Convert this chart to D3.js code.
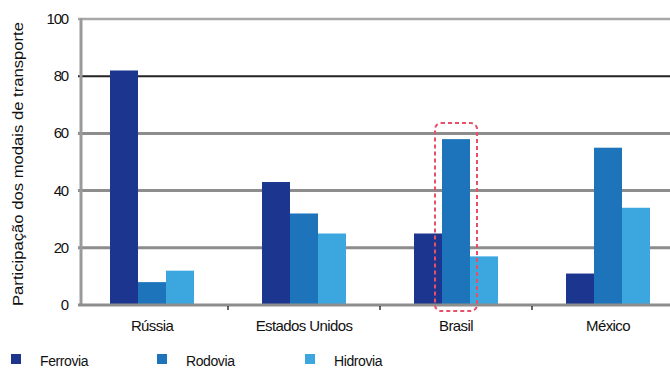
<!DOCTYPE html>
<html lang="pt">
<head>
<meta charset="utf-8">
<title>Participação dos modais de transporte</title>
<style>
    body { margin: 0; background: #fff; }
    svg { display: block; font-family: "Liberation Sans", Arial, sans-serif; }
    .tick-lbl { font-size: 15px; fill: #111; }
    .cat-lbl { font-size: 15px; fill: #111; letter-spacing: -0.6px; }
    .leg-lbl { font-size: 14px; fill: #111; letter-spacing: -0.4px; }
</style>
</head>
<body>
<svg id="chart" width="670" height="368"></svg>
<script src="https://d3js.org/d3.v7.min.js"></script>
<script>
    // dados
    var paises = ['Rússia', 'Estados Unidos', 'Brasil', 'México'];
    var series = ['Ferrovia', 'Rodovia', 'Hidrovia'];
    var ferrovia = [82, 43, 25, 11];
    var rodovia = [8, 32, 58, 55];
    var hidrovia = [12, 25, 17, 34];
    var yTicks = [0, 20, 40, 60, 80, 100];
    var cores = ['#1c3690', '#1d74bb', '#3ca7df'];

    var valores = [ferrovia, rodovia, hidrovia];

    var svg = d3.select('#chart'),
        axisX = 81,
        plotTop = 19,
        plotBottom = 305;

    // escalas
    var y = d3.scaleLinear().domain([0, 100]).range([plotBottom, plotTop]);
    var x0 = d3.scaleBand().domain(paises).range([76, 684]);
    var groupW = 84;
    var x1 = d3.scaleBand().domain(series).range([0, groupW]);

    function barX(pais, serie) {
        return x0(pais) + (x0.bandwidth() - groupW) / 2 + x1(serie);
    }

    // grades
    var grid = svg.append('g');
    yTicks.forEach(function(t) {
        var cor = '#8d8d8d', w = 3;
        if (t === 80) { cor = '#222'; w = 2; }
        if (t === 100) { cor = '#a8a8a8'; w = 2.5; }
        if (t === 0) { return; }
        grid.append('line')
            .attr('x1', axisX - 3).attr('x2', 670)
            .attr('y1', y(t)).attr('y2', y(t))
            .attr('stroke', cor).attr('stroke-width', w);
    });

    // barras
    var bars = svg.append('g');
    paises.forEach(function(p, i) {
        series.forEach(function(s, j) {
            bars.append('rect')
                .attr('x', barX(p, s))
                .attr('y', y(valores[j][i]))
                .attr('width', x1.bandwidth())
                .attr('height', y(0) - y(valores[j][i]))
                .attr('fill', cores[j]);
        });
    });

    // eixo y
    svg.append('line')
        .attr('x1', axisX).attr('x2', axisX)
        .attr('y1', plotTop - 1).attr('y2', plotBottom + 1)
        .attr('stroke', '#9a9a9a').attr('stroke-width', 3);

    // linha base
    svg.append('line')
        .attr('x1', axisX - 3).attr('x2', 670)
        .attr('y1', y(0)).attr('y2', y(0))
        .attr('stroke', '#8d8d8d').attr('stroke-width', 3);

    var yAxis = svg.append('g');
    yTicks.forEach(function(t) {
        yAxis.append('text')
            .attr('class', 'tick-lbl')
            .attr('x', 68).attr('y', y(t) + 5)
            .attr('text-anchor', 'end')
            .style('letter-spacing', '-1.2px')
            .text(t);
    });

    // marcas entre categorias
    paises.slice(1).forEach(function(p) {
        svg.append('line')
            .attr('x1', x0(p)).attr('x2', x0(p))
            .attr('y1', plotBottom + 1).attr('y2', plotBottom + 5)
            .attr('stroke', '#333').attr('stroke-width', 1.5);
    });

    // rótulos das categorias
    paises.forEach(function(p) {
        svg.append('text')
            .attr('class', 'cat-lbl')
            .attr('x', x0(p) + x0.bandwidth() / 2)
            .attr('y', 331)
            .attr('text-anchor', 'middle')
            .text(p);
    });

    // título do eixo y
    svg.append('text')
        .attr('transform', 'translate(23,' + ((plotTop + plotBottom) / 2 + 2) + ') rotate(-90)')
        .attr('text-anchor', 'middle')
        .attr('font-size', 14)
        .attr('fill', '#111')
        .attr('textLength', 284)
        .attr('lengthAdjust', 'spacingAndGlyphs')
        .text('Participação dos modais de transporte');

    // destaque Brasil
    var bx = barX('Brasil', 'Rodovia');
    svg.append('rect')
        .attr('x', bx - 7)
        .attr('y', y(58) - 16)
        .attr('width', x1.bandwidth() + 14)
        .attr('height', y(0) - y(58) + 22)
        .attr('rx', 6)
        .attr('fill', 'none')
        .attr('stroke', '#e8506a')
        .attr('stroke-width', 2)
        .attr('stroke-dasharray', '4,3');

    // legenda
    var legX = [11, 157, 305];
    series.forEach(function(s, j) {
        svg.append('rect')
            .attr('x', legX[j]).attr('y', 354)
            .attr('width', 10).attr('height', 10)
            .attr('fill', cores[j]);
        svg.append('text')
            .attr('class', 'leg-lbl')
            .attr('x', legX[j] + 29).attr('y', 366)
            .text(s);
    });
</script>
</body>
</html>
